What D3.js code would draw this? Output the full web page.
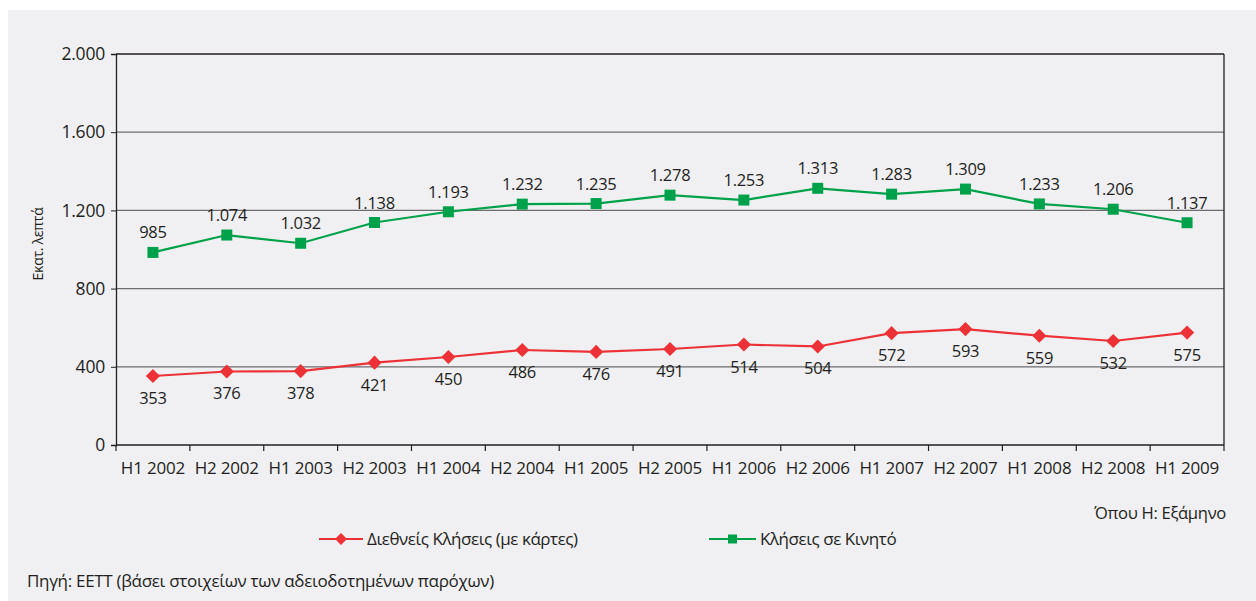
<!DOCTYPE html>
<html><head><meta charset="utf-8">
<script src="https://cdn.jsdelivr.net/npm/d3@7"></script>
<style>body{margin:0;background:#fff;}svg{display:block;font-family:"Open Sans",sans-serif;}</style>
</head><body>
<script>
const categories = ["H1 2002","H2 2002","H1 2003","H2 2003","H1 2004","H2 2004","H1 2005","H2 2005","H1 2006","H2 2006","H1 2007","H2 2007","H1 2008","H2 2008","H1 2009"];
const mobileCalls = [985,1074,1032,1138,1193,1232,1235,1278,1253,1313,1283,1309,1233,1206,1137];
const intlCalls = [353,376,378,421,450,486,476,491,514,504,572,593,559,532,575];
const yTicks = [0,400,800,1200,1600,2000];
const seriesNames = ["Διεθνείς Κλήσεις (με κάρτες)","Κλήσεις σε Κινητό"];

const W=1256,H=601;
const svg=d3.select("body").append("svg").attr("width",W).attr("height",H);
svg.append("rect").attr("x",8).attr("y",10).attr("width",W-8).attr("height",H-10).attr("fill","#f0f0f2");

const L=116,R=1224,T=54,B=445;
const x=d3.scaleBand().domain(categories).range([L,R]);
const y=d3.scaleLinear().domain([0,2000]).range([B,T]);
const loc=d3.formatLocale({decimal:",",thousands:".",grouping:[3],currency:["","€"]});
const fmt=loc.format(",d");
const textCol="#231f20";

// gridlines
svg.append("g").selectAll("line").data(yTicks.filter(d=>d>0)).join("line")
 .attr("x1",L).attr("x2",R).attr("y1",d=>y(d)).attr("y2",d=>y(d))
 .attr("stroke",d=>d===2000?"#231f20":"#6d6d6f").attr("stroke-width",1.3);
// right border
svg.append("line").attr("x1",R).attr("x2",R).attr("y1",T).attr("y2",B).attr("stroke","#231f20").attr("stroke-width",1.3);

// y axis
const ya=svg.append("g").attr("transform",`translate(${L},0)`)
 .call(d3.axisLeft(y).tickValues(yTicks).tickFormat(fmt).tickSize(5).tickPadding(6));
ya.select(".domain").attr("stroke","#231f20").attr("stroke-width",1.3);
ya.selectAll(".tick line").attr("stroke","#231f20");
ya.selectAll("text").attr("font-size",17.5).attr("fill",textCol).attr("font-family","Open Sans").attr("letter-spacing",-0.2);

// x axis
const xa=svg.append("g").attr("transform",`translate(0,${B})`)
 .call(d3.axisBottom(x).tickSize(0).tickPadding(17));
xa.select(".domain").attr("stroke","#231f20").attr("stroke-width",1.3).attr("d",`M${L},0H${R}`);
xa.selectAll("text").attr("font-size",17).attr("fill",textCol).attr("font-family","Open Sans").attr("letter-spacing",-0.2);
svg.append("g").selectAll("line").data(d3.range(categories.length+1)).join("line")
 .attr("x1",i=>L+i*x.step()).attr("x2",i=>L+i*x.step()).attr("y1",B).attr("y2",B+6)
 .attr("stroke","#231f20").attr("stroke-width",1.2);

// y title
svg.append("text").attr("transform",`translate(43,244) rotate(-90)`).attr("text-anchor","middle")
 .attr("font-size",14).attr("fill",textCol).attr("letter-spacing",-0.3).text("Εκατ. λεπτά");

const cx=d=>x(d)+x.bandwidth()/2;
const green="#00a14b", red="#ed3237";
const line=d3.line().x(d=>cx(d[0])).y(d=>y(d[1]));

function drawSeries(vals,color,diamond,labelDy){
  const pts=categories.map((c,i)=>[c,vals[i]]);
  svg.append("path").datum(pts).attr("d",line).attr("fill","none").attr("stroke",color).attr("stroke-width",2.2);
  svg.append("g").selectAll("path").data(pts).join("path")
   .attr("transform",d=>`translate(${cx(d[0])},${y(d[1])})${diamond?" rotate(45)":""}`)
   .attr("d",d3.symbol().type(d3.symbolSquare).size(diamond?100:121)())
   .attr("fill",color);
  svg.append("g").selectAll("text").data(pts).join("text")
   .attr("x",d=>cx(d[0])).attr("y",d=>y(d[1])+labelDy).attr("text-anchor","middle")
   .attr("font-size",16.5).attr("fill",textCol).attr("letter-spacing",-0.3).text(d=>fmt(d[1]));
}
drawSeries(mobileCalls,green,false,-14);
drawSeries(intlCalls,red,true,28);

// note
svg.append("text").attr("x",1226).attr("y",519).attr("text-anchor","end").attr("font-size",16.6).attr("fill",textCol).attr("letter-spacing",-0.3).text("Όπου Η: Εξάμηνο");

// legend
const leg=[{x1:319,x2:363,color:red,diamond:true,name:seriesNames[0]},{x1:709,x2:756,color:green,diamond:false,name:seriesNames[1]}];
const lg=svg.append("g").selectAll("g").data(leg).join("g");
lg.append("line").attr("x1",d=>d.x1).attr("x2",d=>d.x2).attr("y1",539).attr("y2",539).attr("stroke",d=>d.color).attr("stroke-width",2.2);
lg.append("path").attr("transform",d=>`translate(${(d.x1+d.x2)/2},539)${d.diamond?" rotate(45)":""}`).attr("d",d=>d3.symbol().type(d3.symbolSquare).size(d.diamond?72:81)()).attr("fill",d=>d.color);
lg.append("text").attr("x",d=>d.x2+4).attr("y",545).attr("font-size",17).attr("fill",textCol).attr("letter-spacing",-0.45).text(d=>d.name);

// source
svg.append("text").attr("x",27).attr("y",587).attr("font-size",17).attr("fill",textCol).attr("letter-spacing",-0.3).text("Πηγή: ΕΕΤΤ (βάσει στοιχείων των αδειοδοτημένων παρόχων)");
</script>
</body></html>
